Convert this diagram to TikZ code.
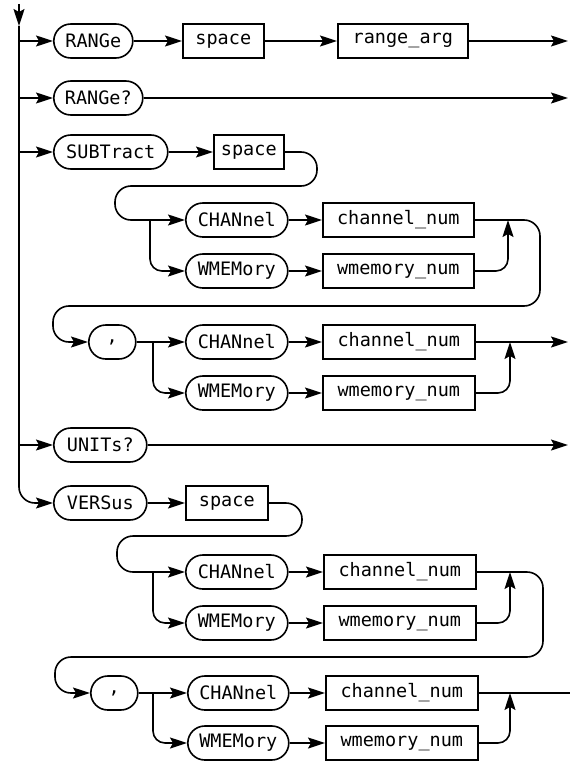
\documentclass[tikz,border=0pt]{standalone}
\usepackage{fontspec}
\setmonofont{DejaVu Sans Mono}
\usepackage{tikz}
\usetikzlibrary{arrows.meta, positioning}

\begin{document}
\begin{tikzpicture}[x=1pt, y=-1pt, line width=1.6pt,
    >={Stealth[length=17pt,width=11pt,inset=3pt]},
    kw/.style={draw, anchor=west, rounded corners=17pt, minimum height=34pt, inner sep=0pt,
               font=\ttfamily\fontsize{18.5}{19}\selectfont},
    arg/.style={draw, anchor=west, minimum height=34pt, inner sep=0pt,
               font=\ttfamily\fontsize{18.5}{19}\selectfont},
    loop/.style={rounded corners=16pt},
    fork/.style={rounded corners=12pt}]

    \useasboundingbox (0,0) rectangle (570,768);

    % =================================================================
    % 1. COORDINATES (trunk, loops, forks, merges, outputs)
    % =================================================================
    \coordinate (top) at (19,4);
    \coordinate (trunkarrow) at (19,26);

    \coordinate (out1) at (568,41);
    \coordinate (out2) at (568,98);
    \coordinate (out3) at (568,342);
    \coordinate (out4) at (568,445);
    \coordinate (end4) at (570,693);

    % SUBTract loops
    \coordinate (subR) at (317,152);
    \coordinate (subL) at (115,186);
    \coordinate (j1) at (150,220);
    \coordinate (m1) at (508,220);
    \coordinate (lpR1) at (540,306);
    \coordinate (lpL1) at (53,306);
    \coordinate (j2) at (153,342);
    \coordinate (m2) at (510,342);

    % VERSus loops
    \coordinate (vR) at (302,503);
    \coordinate (vL) at (117,536);
    \coordinate (j3) at (153,572);
    \coordinate (m3) at (510,572);
    \coordinate (lpR2) at (543,657);
    \coordinate (lpL2) at (55,657);
    \coordinate (j4) at (153,693);
    \coordinate (m4) at (510,693);

    % =================================================================
    % 2. KEYWORDS AND ARGUMENTS
    % =================================================================
    \node[kw, minimum width=79pt] (rng) at (53,41) {RANGe};
    \node[arg, minimum width=81pt] (rngsp) at (182,41) {space};
    \node[arg, minimum width=130pt] (rngarg) at (337,41) {range\_arg};

    \node[kw, minimum width=89pt] (rngq) at (53,98) {RANGe?};

    \node[kw, minimum width=114pt] (sub) at (53,152) {SUBTract};
    \node[arg, minimum width=70pt] (subsp) at (213,152) {space};

    \node[kw, minimum width=102pt] (ch1) at (185,220) {CHANnel};
    \node[kw, minimum width=102pt] (wm1) at (185,271) {WMEMory};
    \node[arg, minimum width=151pt] (chn1) at (322,220) {channel\_num};
    \node[arg, minimum width=151pt] (wmn1) at (322,271) {wmemory\_num};

    \node[kw, minimum width=47pt] (comma1) at (88,342) {,};
    \node[kw, minimum width=102pt] (ch2) at (185,342) {CHANnel};
    \node[kw, minimum width=102pt] (wm2) at (185,393) {WMEMory};
    \node[arg, minimum width=152pt] (chn2) at (322,342) {channel\_num};
    \node[arg, minimum width=152pt] (wmn2) at (322,393) {wmemory\_num};

    \node[kw, minimum width=93pt] (unitq) at (53,445) {UNITs?};

    \node[kw, minimum width=93pt] (vers) at (53,503) {VERSus};
    \node[arg, minimum width=82pt] (vsp) at (185,503) {space};

    \node[kw, minimum width=102pt] (ch3) at (185,572) {CHANnel};
    \node[kw, minimum width=102pt] (wm3) at (185,623) {WMEMory};
    \node[arg, minimum width=152pt] (chn3) at (323,572) {channel\_num};
    \node[arg, minimum width=152pt] (wmn3) at (323,623) {wmemory\_num};

    \node[kw, minimum width=47pt] (comma2) at (90,693) {,};
    \node[kw, minimum width=101pt] (ch4) at (187,693) {CHANnel};
    \node[kw, minimum width=101pt] (wm4) at (187,743) {WMEMory};
    \node[arg, minimum width=152pt] (chn4) at (325,693) {channel\_num};
    \node[arg, minimum width=152pt] (wmn4) at (325,743) {wmemory\_num};

    % =================================================================
    % 3. TRUNK AND BRANCHES
    % =================================================================
    \draw[->] (top) -- (trunkarrow);
    \draw[loop, ->] (trunkarrow) |- (vers.west);
    \draw[->] (rng.west -| top) -- (rng.west);
    \draw[->] (rngq.west -| top) -- (rngq.west);
    \draw[->] (sub.west -| top) -- (sub.west);
    \draw[->] (unitq.west -| top) -- (unitq.west);

    % RANGe, RANGe?, UNITs?
    \draw[->] (rng) -- (rngsp);
    \draw[->] (rngsp) -- (rngarg);
    \draw[->] (rngarg) -- (out1);
    \draw[->] (rngq) -- (out2);
    \draw[->] (unitq) -- (out4);

    % =================================================================
    % 4. SUBTract
    % =================================================================
    \draw[->] (sub) -- (subsp);
    \draw[loop, ->] (subsp.east) -- (subR) -- (subR |- subL) -- (subL) -- (subL |- ch1) -- (ch1.west);
    \draw[fork, ->] (j1) |- (wm1.west);
    \draw[->] (ch1) -- (chn1);
    \draw[->] (wm1) -- (wmn1);
    \draw[fork, ->] (wmn1.east) -| (m1);
    \draw[loop, ->] (chn1.east) -- (lpR1 |- chn1) -- (lpR1) -- (lpL1) -- (lpL1 |- comma1) -- (comma1.west);

    \draw[->] (comma1) -- (ch2);
    \draw[fork, ->] (j2) |- (wm2.west);
    \draw[->] (ch2) -- (chn2);
    \draw[->] (wm2) -- (wmn2);
    \draw[fork, ->] (wmn2.east) -| (m2);
    \draw[->] (chn2) -- (out3);

    % =================================================================
    % 5. VERSus
    % =================================================================
    \draw[->] (vers) -- (vsp);
    \draw[loop, ->] (vsp.east) -- (vR) -- (vR |- vL) -- (vL) -- (vL |- ch3) -- (ch3.west);
    \draw[fork, ->] (j3) |- (wm3.west);
    \draw[->] (ch3) -- (chn3);
    \draw[->] (wm3) -- (wmn3);
    \draw[fork, ->] (wmn3.east) -| (m3);
    \draw[loop, ->] (chn3.east) -- (lpR2 |- chn3) -- (lpR2) -- (lpL2) -- (lpL2 |- comma2) -- (comma2.west);

    \draw[->] (comma2) -- (ch4);
    \draw[fork, ->] (j4) |- (wm4.west);
    \draw[->] (ch4) -- (chn4);
    \draw[->] (wm4) -- (wmn4);
    \draw[fork, ->] (wmn4.east) -| (m4);
    \draw (chn4) -- (end4);

\end{tikzpicture}
\end{document}
